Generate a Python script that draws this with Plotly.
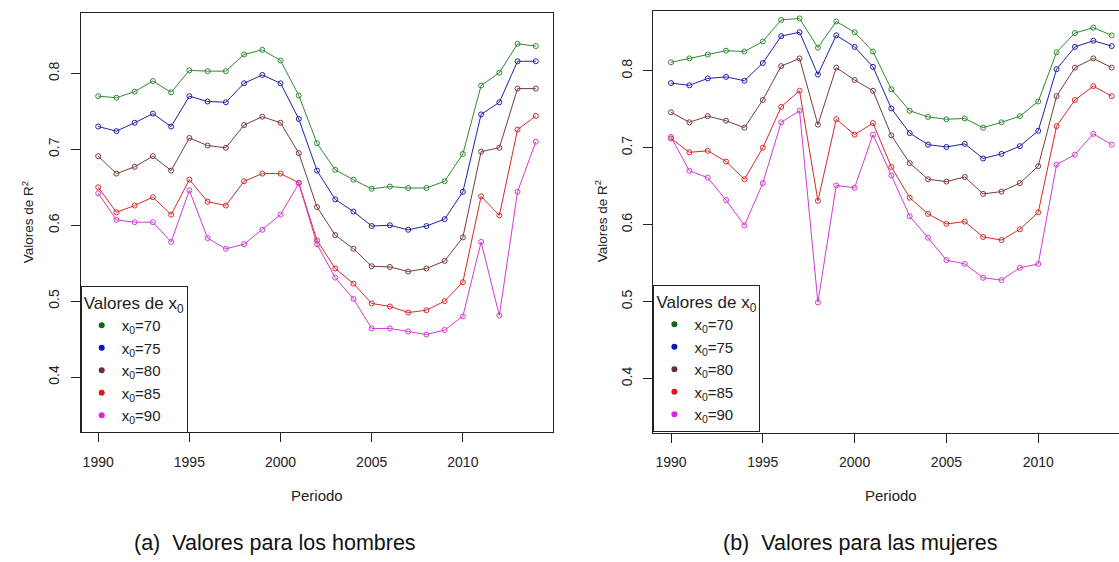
import plotly.graph_objects as go

years = list(range(1990, 2015))

# Hombres
m70 = [0.770, 0.768, 0.776, 0.790, 0.775, 0.804, 0.803, 0.803, 0.825, 0.831, 0.817, 0.771, 0.708, 0.673, 0.660, 0.648, 0.651, 0.649, 0.649, 0.658, 0.694, 0.784, 0.801, 0.839, 0.836]
m75 = [0.730, 0.724, 0.735, 0.747, 0.730, 0.770, 0.763, 0.762, 0.787, 0.798, 0.787, 0.740, 0.672, 0.634, 0.618, 0.599, 0.600, 0.594, 0.599, 0.608, 0.644, 0.746, 0.762, 0.816, 0.816]
m80 = [0.691, 0.668, 0.677, 0.691, 0.672, 0.715, 0.705, 0.702, 0.732, 0.743, 0.735, 0.695, 0.624, 0.587, 0.569, 0.546, 0.545, 0.539, 0.543, 0.553, 0.584, 0.697, 0.702, 0.780, 0.780]
m85 = [0.650, 0.617, 0.626, 0.637, 0.614, 0.660, 0.631, 0.626, 0.658, 0.668, 0.668, 0.656, 0.580, 0.543, 0.523, 0.497, 0.493, 0.485, 0.488, 0.500, 0.525, 0.638, 0.613, 0.726, 0.744]
m90 = [0.642, 0.607, 0.604, 0.604, 0.578, 0.646, 0.583, 0.569, 0.575, 0.594, 0.614, 0.655, 0.575, 0.531, 0.503, 0.464, 0.464, 0.460, 0.456, 0.462, 0.480, 0.578, 0.481, 0.644, 0.710]

# Mujeres
w70 = [0.811, 0.816, 0.821, 0.826, 0.825, 0.838, 0.866, 0.868, 0.830, 0.864, 0.850, 0.825, 0.776, 0.748, 0.740, 0.737, 0.738, 0.726, 0.733, 0.741, 0.760, 0.824, 0.849, 0.856, 0.846]
w75 = [0.784, 0.781, 0.790, 0.792, 0.787, 0.810, 0.845, 0.850, 0.795, 0.846, 0.831, 0.805, 0.751, 0.719, 0.704, 0.701, 0.705, 0.686, 0.692, 0.702, 0.722, 0.802, 0.831, 0.839, 0.832]
w80 = [0.746, 0.733, 0.741, 0.735, 0.726, 0.762, 0.806, 0.816, 0.730, 0.804, 0.788, 0.774, 0.716, 0.680, 0.659, 0.656, 0.662, 0.640, 0.643, 0.654, 0.676, 0.767, 0.804, 0.816, 0.804]
w85 = [0.712, 0.694, 0.696, 0.682, 0.659, 0.700, 0.753, 0.774, 0.631, 0.737, 0.717, 0.732, 0.675, 0.635, 0.614, 0.601, 0.604, 0.584, 0.580, 0.594, 0.616, 0.728, 0.762, 0.780, 0.767]
w90 = [0.714, 0.670, 0.661, 0.632, 0.599, 0.654, 0.733, 0.748, 0.499, 0.651, 0.648, 0.717, 0.664, 0.611, 0.583, 0.554, 0.549, 0.531, 0.528, 0.544, 0.549, 0.678, 0.691, 0.718, 0.704]

labels = ["x<sub>0</sub>=70", "x<sub>0</sub>=75", "x<sub>0</sub>=80", "x<sub>0</sub>=85", "x<sub>0</sub>=90"]
line_colors = ["#2f8a2f", "#2020a8", "#7a3a3a", "#d42a2a", "#d23ad2"]
dot_colors = ["#116611", "#1010c0", "#6a2e2e", "#e01818", "#e020e0"]

men = [m70, m75, m80, m85, m90]
women = [w70, w75, w80, w85, w90]

FONT = "Liberation Sans, Arial, sans-serif"
fig = go.Figure()

for panel, (series, xa, ya, lg) in enumerate([(men, "x", "y", "legend"), (women, "x2", "y2", "legend2")]):
    for vals, lc in zip(series, line_colors):
        fig.add_trace(go.Scatter(
            x=years, y=vals, xaxis=xa, yaxis=ya, mode="lines+markers",
            line=dict(color=lc, width=1),
            marker=dict(symbol="circle-open", size=5, color=lc, line=dict(width=1)),
            showlegend=False, hoverinfo="skip"))
    for lab, dc in zip(labels, dot_colors):
        fig.add_trace(go.Scatter(
            x=[None], y=[None], xaxis=xa, yaxis=ya, mode="markers", name=lab,
            marker=dict(symbol="circle", size=6, color=dc),
            showlegend=True, legend=lg))

W, H = 1119, 562
lx0, lx1, ly0, ly1 = 80.7 / W, 553.3 / W, 1 - 431.7 / H, 1 - 12.7 / H
rx0, rx1, ry0, ry1 = 653.4 / W, 1.0, 1 - 432.5 / H, 1 - 10.7 / H

axis_common = dict(showgrid=False, zeroline=False, ticks="outside", ticklen=9,
                   tickcolor="#222", tickwidth=1, linecolor="#222", linewidth=1,
                   tickfont=dict(family=FONT, size=14, color="#222"), showline=True)

legend_common = dict(xanchor="left", yanchor="top",
                     bordercolor="#222", borderwidth=1, bgcolor="white",
                     font=dict(family=FONT, size=15, color="#222"),
                     title=dict(text="Valores de x<sub>0</sub>", font=dict(family=FONT, size=17, color="#222")),
                     itemwidth=30, tracegroupgap=0)

fig.update_layout(
    width=W, height=H, margin=dict(l=0, r=0, t=0, b=0),
    paper_bgcolor="white", plot_bgcolor="white",
    font=dict(family=FONT, color="#222"),
    xaxis=dict(domain=[lx0, lx1], range=[1989.04, 2014.96], tickvals=[1990, 1995, 2000, 2005, 2010],
               mirror=True, anchor="y", ticklabelstandoff=8, **axis_common),
    yaxis=dict(domain=[ly0, ly1], range=[0.328, 0.880], tickvals=[0.4, 0.5, 0.6, 0.7, 0.8],
               tickformat=".1f", tickangle=-90, mirror=True, anchor="x", ticklabelstandoff=6, **axis_common),
    xaxis2=dict(domain=[rx0, rx1], range=[1989.04, 2014.40], tickvals=[1990, 1995, 2000, 2005, 2010],
                mirror=True, anchor="y2", ticklabelstandoff=8, **axis_common),
    yaxis2=dict(domain=[ry0, ry1], range=[0.330, 0.878], tickvals=[0.4, 0.5, 0.6, 0.7, 0.8],
                tickformat=".1f", tickangle=-90, mirror=False, anchor="x2", ticklabelstandoff=6, **axis_common),
    legend=dict(x=lx0, y=1 - 286 / H, **legend_common),
    legend2=dict(x=rx0, y=1 - 285 / H, **legend_common),
)

ann = []
for cx in [(lx0 + lx1) / 2, ((653.4 + 1129) / 2) / W]:
    ann.append(dict(x=cx, y=1 - 495 / H, xref="paper", yref="paper", text="Periodo", showarrow=False,
                    font=dict(family=FONT, size=15, color="#222"), xanchor="center", yanchor="middle"))
for cx, cy in [(28 / W, (ly0 + ly1) / 2), ((653.4 - 52.7) / W, (ry0 + ry1) / 2)]:
    ann.append(dict(x=cx, y=cy, xref="paper", yref="paper", text="Valores de R<sup>2</sup>", showarrow=False,
                    textangle=-90, font=dict(family=FONT, size=13.5, color="#222"),
                    xanchor="center", yanchor="middle"))
for cx, tx in [(275 / W, "(a)  Valores para los hombres"), (860 / W, "(b)  Valores para las mujeres")]:
    ann.append(dict(x=cx, y=1 - 543 / H, xref="paper", yref="paper", text=tx, showarrow=False,
                    font=dict(family=FONT, size=21.5, color="#111"), xanchor="center", yanchor="middle"))
fig.update_layout(annotations=ann)

fig.write_html("out.html")
